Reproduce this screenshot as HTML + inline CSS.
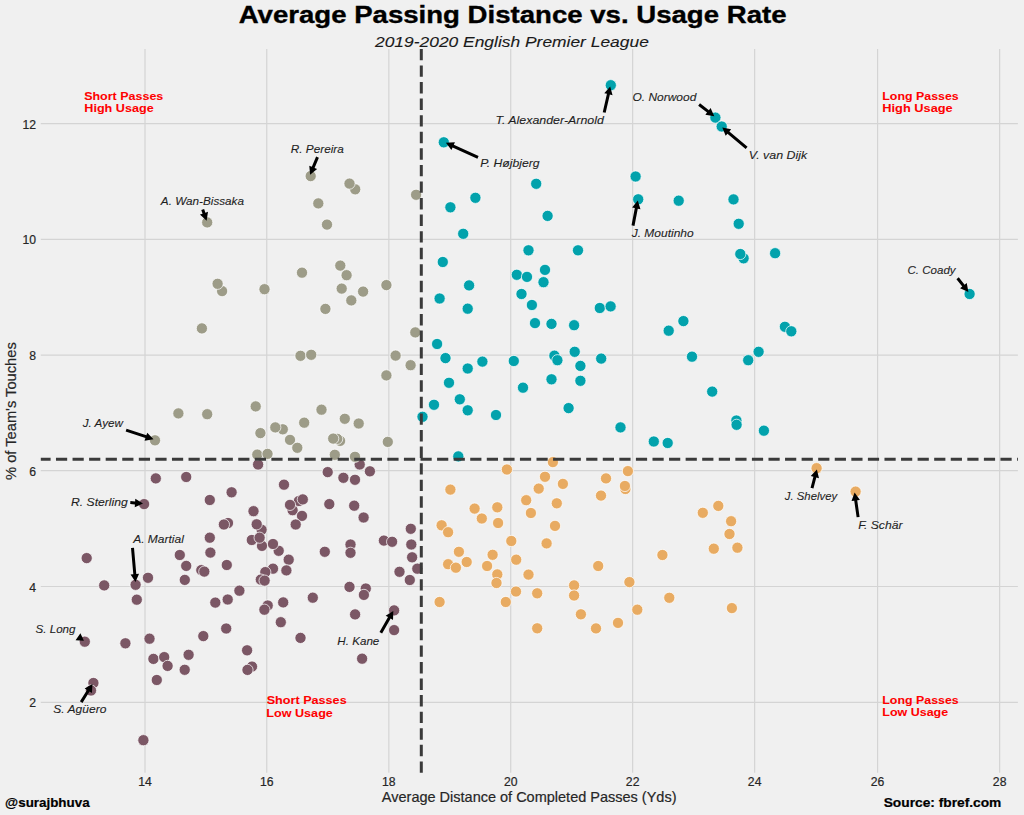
<!DOCTYPE html><html><head><meta charset="utf-8"><style>html,body{margin:0;padding:0;background:#f0f0f0;}svg{display:block;}text{font-family:"Liberation Sans",sans-serif;}</style></head><body>
<svg width="1024" height="815" viewBox="0 0 1024 815">
<rect width="1024" height="815" fill="#f0f0f0"/>
<path d="M145.00 48.9V772.8M266.75 48.9V772.8M388.85 48.9V772.8M510.70 48.9V772.8M632.65 48.9V772.8M754.65 48.9V772.8M877.60 48.9V772.8M999.65 48.9V772.8M40.8 702.35H1017.9M40.8 586.50H1017.9M40.8 470.65H1017.9M40.8 355.10H1017.9M40.8 239.35H1017.9M40.8 123.65H1017.9" stroke="#d4d4d4" stroke-width="1.2" fill="none"/>
<g fill="#7b5765" stroke="#ffffff" stroke-width="0.9" stroke-opacity="0.8">
<circle cx="155.8" cy="478.4" r="5.6"/><circle cx="186.2" cy="477.0" r="5.6"/><circle cx="231.6" cy="492.3" r="5.6"/><circle cx="209.8" cy="500.0" r="5.6"/><circle cx="144.1" cy="504.1" r="5.6"/><circle cx="258.1" cy="464.5" r="5.6"/><circle cx="359.7" cy="464.5" r="5.6"/><circle cx="327.7" cy="472.1" r="5.6"/><circle cx="369.9" cy="471.3" r="5.6"/><circle cx="343.4" cy="477.8" r="5.6"/><circle cx="355.0" cy="479.8" r="5.6"/><circle cx="284.0" cy="484.7" r="5.6"/><circle cx="298.9" cy="501.0" r="5.6"/><circle cx="292.6" cy="510.2" r="5.6"/><circle cx="329.3" cy="504.1" r="5.6"/><circle cx="354.2" cy="505.7" r="5.6"/><circle cx="302.0" cy="515.9" r="5.6"/><circle cx="253.5" cy="511.2" r="5.6"/><circle cx="363.6" cy="517.5" r="5.6"/><circle cx="295.7" cy="524.5" r="5.6"/><circle cx="261.6" cy="529.8" r="5.6"/><circle cx="251.8" cy="540.0" r="5.6"/><circle cx="262.0" cy="545.9" r="5.6"/><circle cx="278.7" cy="550.8" r="5.6"/><circle cx="288.7" cy="559.7" r="5.6"/><circle cx="273.0" cy="568.7" r="5.6"/><circle cx="286.4" cy="570.4" r="5.6"/><circle cx="265.3" cy="572.1" r="5.6"/><circle cx="324.8" cy="551.8" r="5.6"/><circle cx="350.5" cy="544.5" r="5.6"/><circle cx="350.5" cy="552.8" r="5.6"/><circle cx="383.9" cy="540.6" r="5.6"/><circle cx="392.1" cy="541.8" r="5.6"/><circle cx="410.8" cy="528.8" r="5.6"/><circle cx="411.3" cy="544.5" r="5.6"/><circle cx="412.1" cy="557.3" r="5.6"/><circle cx="399.5" cy="571.8" r="5.6"/><circle cx="417.3" cy="568.7" r="5.6"/><circle cx="228.0" cy="523.0" r="5.6"/><circle cx="223.9" cy="524.5" r="5.6"/><circle cx="209.8" cy="537.7" r="5.6"/><circle cx="210.4" cy="552.6" r="5.6"/><circle cx="179.8" cy="555.0" r="5.6"/><circle cx="226.8" cy="565.0" r="5.6"/><circle cx="186.2" cy="565.9" r="5.6"/><circle cx="201.3" cy="570.1" r="5.6"/><circle cx="204.3" cy="571.6" r="5.6"/><circle cx="86.7" cy="558.1" r="5.6"/><circle cx="148.0" cy="577.8" r="5.6"/><circle cx="184.8" cy="579.9" r="5.6"/><circle cx="104.2" cy="585.4" r="5.6"/><circle cx="135.6" cy="584.8" r="5.6"/><circle cx="239.4" cy="590.7" r="5.6"/><circle cx="136.8" cy="599.7" r="5.6"/><circle cx="215.3" cy="602.6" r="5.6"/><circle cx="227.7" cy="599.5" r="5.6"/><circle cx="226.2" cy="628.5" r="5.6"/><circle cx="203.3" cy="636.1" r="5.6"/><circle cx="84.8" cy="641.7" r="5.6"/><circle cx="125.4" cy="643.3" r="5.6"/><circle cx="149.5" cy="638.7" r="5.6"/><circle cx="153.4" cy="658.9" r="5.6"/><circle cx="164.2" cy="657.1" r="5.6"/><circle cx="188.6" cy="654.8" r="5.6"/><circle cx="167.6" cy="665.9" r="5.6"/><circle cx="184.7" cy="669.8" r="5.6"/><circle cx="156.8" cy="680.0" r="5.6"/><circle cx="93.4" cy="683.0" r="5.6"/><circle cx="91.0" cy="690.5" r="5.6"/><circle cx="143.4" cy="740.2" r="5.6"/><circle cx="260.8" cy="579.6" r="5.6"/><circle cx="264.6" cy="580.6" r="5.6"/><circle cx="267.7" cy="605.5" r="5.6"/><circle cx="264.4" cy="609.7" r="5.6"/><circle cx="283.2" cy="602.4" r="5.6"/><circle cx="312.8" cy="597.7" r="5.6"/><circle cx="280.8" cy="622.2" r="5.6"/><circle cx="300.5" cy="637.9" r="5.6"/><circle cx="247.1" cy="650.3" r="5.6"/><circle cx="252.0" cy="666.6" r="5.6"/><circle cx="247.5" cy="669.9" r="5.6"/><circle cx="349.5" cy="586.9" r="5.6"/><circle cx="365.8" cy="588.5" r="5.6"/><circle cx="363.9" cy="594.9" r="5.6"/><circle cx="355.1" cy="614.4" r="5.6"/><circle cx="394.1" cy="610.4" r="5.6"/><circle cx="394.1" cy="630.1" r="5.6"/><circle cx="362.1" cy="658.7" r="5.6"/><circle cx="409.8" cy="580.0" r="5.6"/><circle cx="256.7" cy="524.3" r="5.6"/><circle cx="259.6" cy="537.7" r="5.6"/><circle cx="273.0" cy="544.0" r="5.6"/><circle cx="290.0" cy="504.9" r="5.6"/><circle cx="302.8" cy="499.4" r="5.6"/>
</g>
<g fill="#9d9c88" stroke="#ffffff" stroke-width="0.9" stroke-opacity="0.8">
<circle cx="310.7" cy="176.1" r="5.6"/><circle cx="355.2" cy="189.3" r="5.6"/><circle cx="416.1" cy="194.8" r="5.6"/><circle cx="318.3" cy="203.4" r="5.6"/><circle cx="327.0" cy="224.6" r="5.6"/><circle cx="340.3" cy="265.6" r="5.6"/><circle cx="302.0" cy="272.7" r="5.6"/><circle cx="346.6" cy="275.2" r="5.6"/><circle cx="386.4" cy="285.1" r="5.6"/><circle cx="207.2" cy="222.4" r="5.6"/><circle cx="201.9" cy="328.4" r="5.6"/><circle cx="264.5" cy="289.2" r="5.6"/><circle cx="341.7" cy="288.6" r="5.6"/><circle cx="363.1" cy="291.6" r="5.6"/><circle cx="351.3" cy="300.4" r="5.6"/><circle cx="325.4" cy="308.9" r="5.6"/><circle cx="415.3" cy="332.4" r="5.6"/><circle cx="300.5" cy="355.8" r="5.6"/><circle cx="311.2" cy="354.8" r="5.6"/><circle cx="395.6" cy="355.6" r="5.6"/><circle cx="410.6" cy="365.2" r="5.6"/><circle cx="386.4" cy="375.4" r="5.6"/><circle cx="255.7" cy="406.4" r="5.6"/><circle cx="321.5" cy="409.7" r="5.6"/><circle cx="344.8" cy="418.8" r="5.6"/><circle cx="304.2" cy="422.7" r="5.6"/><circle cx="358.7" cy="423.5" r="5.6"/><circle cx="260.4" cy="433.1" r="5.6"/><circle cx="290.0" cy="439.9" r="5.6"/><circle cx="297.3" cy="447.8" r="5.6"/><circle cx="387.8" cy="441.9" r="5.6"/><circle cx="257.3" cy="454.6" r="5.6"/><circle cx="267.5" cy="453.9" r="5.6"/><circle cx="334.8" cy="454.8" r="5.6"/><circle cx="355.0" cy="456.8" r="5.6"/><circle cx="178.4" cy="413.4" r="5.6"/><circle cx="207.2" cy="414.2" r="5.6"/><circle cx="155.0" cy="440.3" r="5.6"/><circle cx="222.1" cy="291.1" r="5.6"/><circle cx="217.6" cy="283.8" r="5.6"/><circle cx="282.8" cy="429.3" r="5.6"/><circle cx="275.3" cy="427.4" r="5.6"/><circle cx="340.1" cy="440.9" r="5.6"/><circle cx="337.2" cy="438.9" r="5.6"/><circle cx="333.2" cy="438.6" r="5.6"/><circle cx="349.5" cy="183.6" r="5.6"/>
</g>
<g fill="#02a2ac" stroke="#ffffff" stroke-width="0.9" stroke-opacity="0.8">
<circle cx="610.8" cy="85.2" r="5.6"/><circle cx="443.8" cy="142.3" r="5.6"/><circle cx="536.2" cy="183.8" r="5.6"/><circle cx="475.4" cy="197.8" r="5.6"/><circle cx="635.6" cy="176.5" r="5.6"/><circle cx="638.2" cy="199.3" r="5.6"/><circle cx="715.4" cy="117.6" r="5.6"/><circle cx="721.7" cy="126.5" r="5.6"/><circle cx="678.7" cy="200.7" r="5.6"/><circle cx="733.5" cy="199.4" r="5.6"/><circle cx="450.4" cy="207.3" r="5.6"/><circle cx="547.6" cy="215.9" r="5.6"/><circle cx="463.2" cy="233.8" r="5.6"/><circle cx="528.5" cy="250.3" r="5.6"/><circle cx="578.0" cy="250.3" r="5.6"/><circle cx="442.8" cy="262.0" r="5.6"/><circle cx="545.0" cy="269.9" r="5.6"/><circle cx="516.8" cy="274.8" r="5.6"/><circle cx="527.0" cy="276.9" r="5.6"/><circle cx="543.5" cy="282.2" r="5.6"/><circle cx="469.1" cy="285.4" r="5.6"/><circle cx="521.5" cy="294.0" r="5.6"/><circle cx="439.6" cy="298.5" r="5.6"/><circle cx="531.9" cy="305.0" r="5.6"/><circle cx="467.7" cy="308.7" r="5.6"/><circle cx="599.8" cy="308.0" r="5.6"/><circle cx="610.6" cy="306.4" r="5.6"/><circle cx="535.0" cy="323.1" r="5.6"/><circle cx="551.5" cy="323.9" r="5.6"/><circle cx="574.1" cy="325.2" r="5.6"/><circle cx="437.1" cy="344.0" r="5.6"/><circle cx="738.7" cy="223.8" r="5.6"/><circle cx="743.6" cy="258.3" r="5.6"/><circle cx="775.1" cy="253.2" r="5.6"/><circle cx="683.4" cy="321.1" r="5.6"/><circle cx="668.7" cy="330.7" r="5.6"/><circle cx="784.9" cy="326.8" r="5.6"/><circle cx="791.3" cy="331.3" r="5.6"/><circle cx="969.6" cy="294.0" r="5.6"/><circle cx="445.5" cy="358.1" r="5.6"/><circle cx="482.4" cy="361.6" r="5.6"/><circle cx="467.7" cy="368.5" r="5.6"/><circle cx="513.8" cy="361.0" r="5.6"/><circle cx="554.4" cy="355.7" r="5.6"/><circle cx="557.4" cy="360.2" r="5.6"/><circle cx="574.7" cy="351.8" r="5.6"/><circle cx="580.4" cy="365.9" r="5.6"/><circle cx="601.2" cy="358.6" r="5.6"/><circle cx="449.0" cy="382.8" r="5.6"/><circle cx="523.0" cy="387.7" r="5.6"/><circle cx="551.5" cy="379.3" r="5.6"/><circle cx="580.4" cy="380.8" r="5.6"/><circle cx="434.0" cy="404.8" r="5.6"/><circle cx="459.8" cy="399.3" r="5.6"/><circle cx="467.7" cy="410.3" r="5.6"/><circle cx="496.0" cy="415.0" r="5.6"/><circle cx="422.5" cy="416.8" r="5.6"/><circle cx="568.6" cy="408.1" r="5.6"/><circle cx="620.5" cy="427.4" r="5.6"/><circle cx="458.3" cy="456.4" r="5.6"/><circle cx="692.0" cy="356.7" r="5.6"/><circle cx="748.2" cy="360.2" r="5.6"/><circle cx="758.6" cy="351.8" r="5.6"/><circle cx="712.2" cy="391.6" r="5.6"/><circle cx="736.4" cy="420.5" r="5.6"/><circle cx="736.6" cy="424.8" r="5.6"/><circle cx="763.9" cy="430.7" r="5.6"/><circle cx="653.8" cy="441.5" r="5.6"/><circle cx="667.7" cy="443.0" r="5.6"/><circle cx="740.3" cy="254.0" r="5.6"/>
</g>
<g fill="#e8ab62" stroke="#ffffff" stroke-width="0.9" stroke-opacity="0.8">
<circle cx="506.9" cy="469.5" r="5.6"/><circle cx="552.9" cy="462.1" r="5.6"/><circle cx="545.0" cy="476.8" r="5.6"/><circle cx="562.9" cy="483.9" r="5.6"/><circle cx="538.7" cy="488.6" r="5.6"/><circle cx="606.0" cy="478.4" r="5.6"/><circle cx="450.4" cy="489.6" r="5.6"/><circle cx="601.0" cy="495.6" r="5.6"/><circle cx="526.2" cy="500.2" r="5.6"/><circle cx="556.8" cy="503.3" r="5.6"/><circle cx="474.6" cy="508.6" r="5.6"/><circle cx="497.3" cy="507.3" r="5.6"/><circle cx="530.9" cy="513.0" r="5.6"/><circle cx="481.8" cy="518.5" r="5.6"/><circle cx="498.1" cy="523.0" r="5.6"/><circle cx="441.6" cy="525.3" r="5.6"/><circle cx="555.0" cy="525.9" r="5.6"/><circle cx="448.1" cy="532.2" r="5.6"/><circle cx="511.3" cy="541.0" r="5.6"/><circle cx="546.6" cy="543.4" r="5.6"/><circle cx="458.9" cy="551.8" r="5.6"/><circle cx="492.6" cy="554.8" r="5.6"/><circle cx="516.2" cy="559.7" r="5.6"/><circle cx="466.7" cy="562.0" r="5.6"/><circle cx="448.1" cy="564.2" r="5.6"/><circle cx="455.9" cy="567.7" r="5.6"/><circle cx="487.1" cy="566.0" r="5.6"/><circle cx="497.3" cy="574.4" r="5.6"/><circle cx="528.5" cy="574.6" r="5.6"/><circle cx="598.2" cy="566.0" r="5.6"/><circle cx="496.5" cy="583.0" r="5.6"/><circle cx="574.1" cy="585.4" r="5.6"/><circle cx="516.0" cy="591.5" r="5.6"/><circle cx="537.2" cy="593.3" r="5.6"/><circle cx="574.1" cy="595.5" r="5.6"/><circle cx="439.6" cy="602.0" r="5.6"/><circle cx="505.8" cy="602.0" r="5.6"/><circle cx="580.9" cy="614.3" r="5.6"/><circle cx="537.2" cy="628.3" r="5.6"/><circle cx="596.0" cy="628.4" r="5.6"/><circle cx="618.0" cy="622.9" r="5.6"/><circle cx="627.9" cy="471.1" r="5.6"/><circle cx="625.4" cy="489.0" r="5.6"/><circle cx="816.6" cy="468.2" r="5.6"/><circle cx="855.6" cy="491.6" r="5.6"/><circle cx="718.3" cy="505.9" r="5.6"/><circle cx="702.8" cy="512.8" r="5.6"/><circle cx="731.1" cy="521.2" r="5.6"/><circle cx="729.5" cy="534.0" r="5.6"/><circle cx="713.8" cy="548.7" r="5.6"/><circle cx="737.4" cy="547.7" r="5.6"/><circle cx="662.4" cy="555.0" r="5.6"/><circle cx="629.4" cy="582.1" r="5.6"/><circle cx="669.3" cy="597.8" r="5.6"/><circle cx="637.3" cy="609.7" r="5.6"/><circle cx="731.9" cy="608.1" r="5.6"/><circle cx="624.9" cy="486.0" r="5.6"/>
</g>
<path d="M40.8 459.35H1017.9" stroke="#3a3a3a" stroke-width="3.0" stroke-dasharray="11.2 5.37" stroke-dashoffset="1.4" fill="none"/>
<path d="M421.3 772.8V48.9" stroke="#3a3a3a" stroke-width="3.0" stroke-dasharray="11.4 5.17" fill="none"/>
<path d="M605.66 112.84L609.87 94.53L612.55 95.15L610.20 86.40L604.27 93.24L606.95 93.86L602.74 112.16ZM698.18 105.68L707.06 112.58L705.37 114.75L714.30 116.30L710.59 108.04L708.90 110.21L700.02 103.32ZM747.57 146.75L729.38 131.41L731.16 129.31L722.30 127.40L725.67 135.81L727.45 133.71L745.63 149.05ZM478.62 156.03L453.80 144.75L454.94 142.24L445.90 142.80L451.42 149.98L452.56 147.48L477.38 158.77ZM634.47 225.88L637.77 208.64L640.47 209.16L637.80 200.50L632.12 207.56L634.82 208.08L631.53 225.32ZM956.43 279.23L962.25 286.57L960.10 288.28L968.40 291.90L966.75 282.99L964.60 284.70L958.77 277.37ZM316.12 156.52L311.82 166.74L309.28 165.68L310.10 174.70L317.12 168.97L314.58 167.91L318.88 157.68ZM201.28 209.99L202.57 213.73L199.97 214.62L206.60 220.80L208.01 211.85L205.41 212.75L204.12 209.01ZM125.63 431.52L145.43 438.10L144.57 440.71L153.50 439.20L147.25 432.65L146.38 435.25L126.57 428.68ZM130.21 504.10L134.92 504.39L134.75 507.14L143.00 503.40L135.28 498.66L135.11 501.40L130.39 501.10ZM131.01 547.93L133.31 574.26L130.57 574.50L135.50 582.10L139.04 573.76L136.30 574.00L133.99 547.67ZM75.57 640.19L83.90 640.80L80.43 633.21ZM82.47 702.89L89.54 691.58L91.87 693.04L92.50 684.00L84.66 688.54L86.99 689.99L79.93 701.31ZM382.10 633.54L390.64 618.59L393.03 619.95L393.30 610.90L385.64 615.74L388.03 617.10L379.50 632.06ZM813.45 488.48L816.32 477.52L818.98 478.22L816.90 469.40L810.76 476.06L813.42 476.76L810.55 487.72ZM859.58 516.89L857.22 500.31L859.94 499.92L854.60 492.60L851.52 501.12L854.25 500.73L856.62 517.31Z" fill="#000000"/>
<text x="495.47" y="123.60" font-size="11.2" font-weight="normal" font-style="italic" fill="#1f1f1f" stroke="#1f1f1f" stroke-width="0.1" textLength="108.36" lengthAdjust="spacingAndGlyphs">T. Alexander-Arnold</text>
<text x="632.49" y="100.60" font-size="11.2" font-weight="normal" font-style="italic" fill="#1f1f1f" stroke="#1f1f1f" stroke-width="0.1" textLength="63.83" lengthAdjust="spacingAndGlyphs">O. Norwood</text>
<text x="748.81" y="158.80" font-size="11.2" font-weight="normal" font-style="italic" fill="#1f1f1f" stroke="#1f1f1f" stroke-width="0.1" textLength="58.34" lengthAdjust="spacingAndGlyphs">V. van Dijk</text>
<text x="480.17" y="166.90" font-size="11.2" font-weight="normal" font-style="italic" fill="#1f1f1f" stroke="#1f1f1f" stroke-width="0.1" textLength="59.51" lengthAdjust="spacingAndGlyphs">P. Højbjerg</text>
<text x="631.68" y="236.60" font-size="11.2" font-weight="normal" font-style="italic" fill="#1f1f1f" stroke="#1f1f1f" stroke-width="0.1" textLength="62.00" lengthAdjust="spacingAndGlyphs">J. Moutinho</text>
<text x="907.49" y="273.90" font-size="11.2" font-weight="normal" font-style="italic" fill="#1f1f1f" stroke="#1f1f1f" stroke-width="0.1" textLength="48.15" lengthAdjust="spacingAndGlyphs">C. Coady</text>
<text x="290.83" y="152.80" font-size="11.2" font-weight="normal" font-style="italic" fill="#1f1f1f" stroke="#1f1f1f" stroke-width="0.1" textLength="53.00" lengthAdjust="spacingAndGlyphs">R. Pereira</text>
<text x="160.87" y="204.80" font-size="11.2" font-weight="normal" font-style="italic" fill="#1f1f1f" stroke="#1f1f1f" stroke-width="0.1" textLength="83.15" lengthAdjust="spacingAndGlyphs">A. Wan-Bissaka</text>
<text x="82.66" y="427.20" font-size="11.2" font-weight="normal" font-style="italic" fill="#1f1f1f" stroke="#1f1f1f" stroke-width="0.1" textLength="40.32" lengthAdjust="spacingAndGlyphs">J. Ayew</text>
<text x="70.98" y="505.50" font-size="11.2" font-weight="normal" font-style="italic" fill="#1f1f1f" stroke="#1f1f1f" stroke-width="0.1" textLength="56.85" lengthAdjust="spacingAndGlyphs">R. Sterling</text>
<text x="133.19" y="542.90" font-size="11.2" font-weight="normal" font-style="italic" fill="#1f1f1f" stroke="#1f1f1f" stroke-width="0.1" textLength="50.62" lengthAdjust="spacingAndGlyphs">A. Martial</text>
<text x="35.51" y="632.80" font-size="11.2" font-weight="normal" font-style="italic" fill="#1f1f1f" stroke="#1f1f1f" stroke-width="0.1" textLength="40.00" lengthAdjust="spacingAndGlyphs">S. Long</text>
<text x="53.34" y="713.40" font-size="11.2" font-weight="normal" font-style="italic" fill="#1f1f1f" stroke="#1f1f1f" stroke-width="0.1" textLength="53.00" lengthAdjust="spacingAndGlyphs">S. Agüero</text>
<text x="337.34" y="644.50" font-size="11.2" font-weight="normal" font-style="italic" fill="#1f1f1f" stroke="#1f1f1f" stroke-width="0.1" textLength="42.00" lengthAdjust="spacingAndGlyphs">H. Kane</text>
<text x="784.85" y="499.90" font-size="11.2" font-weight="normal" font-style="italic" fill="#1f1f1f" stroke="#1f1f1f" stroke-width="0.1" textLength="52.30" lengthAdjust="spacingAndGlyphs">J. Shelvey</text>
<text x="858.17" y="528.90" font-size="11.2" font-weight="normal" font-style="italic" fill="#1f1f1f" stroke="#1f1f1f" stroke-width="0.1" textLength="44.32" lengthAdjust="spacingAndGlyphs">F. Schär</text>
<text x="238.66" y="23.40" font-size="23.3" font-weight="bold" font-style="normal" fill="#000000" stroke="#000000" stroke-width="0.35" textLength="547.87" lengthAdjust="spacingAndGlyphs">Average Passing Distance vs. Usage Rate</text>
<text x="375.02" y="47.40" font-size="15.4" font-weight="normal" font-style="italic" fill="#1a1a1a" stroke="#1a1a1a" stroke-width="0.1" textLength="273.81" lengthAdjust="spacingAndGlyphs">2019-2020 English Premier League</text>
<text x="381.83" y="801.90" font-size="15.0" font-weight="normal" font-style="normal" fill="#262626" stroke="#262626" stroke-width="0.2" textLength="294.68" lengthAdjust="spacingAndGlyphs">Average Distance of Completed Passes (Yds)</text>
<text x="5.13" y="806.70" font-size="12.0" font-weight="bold" font-style="normal" fill="#000000" stroke="#000000" stroke-width="0.2" textLength="84.51" lengthAdjust="spacingAndGlyphs">@surajbhuva</text>
<text x="883.66" y="806.80" font-size="12.0" font-weight="bold" font-style="normal" fill="#000000" stroke="#000000" stroke-width="0.2" textLength="117.70" lengthAdjust="spacingAndGlyphs">Source: fbref.com</text>
<text x="84.17" y="100.10" font-size="11.6" font-weight="bold" font-style="normal" fill="#ff0000" stroke="#ff0000" stroke-width="0.05" textLength="79.17" lengthAdjust="spacingAndGlyphs">Short Passes</text>
<text x="84.32" y="112.30" font-size="11.6" font-weight="bold" font-style="normal" fill="#ff0000" stroke="#ff0000" stroke-width="0.05" textLength="69.36" lengthAdjust="spacingAndGlyphs">High Usage</text>
<text x="882.30" y="100.10" font-size="11.6" font-weight="bold" font-style="normal" fill="#ff0000" stroke="#ff0000" stroke-width="0.05" textLength="76.38" lengthAdjust="spacingAndGlyphs">Long Passes</text>
<text x="882.30" y="112.30" font-size="11.6" font-weight="bold" font-style="normal" fill="#ff0000" stroke="#ff0000" stroke-width="0.05" textLength="70.40" lengthAdjust="spacingAndGlyphs">High Usage</text>
<text x="266.66" y="703.80" font-size="11.6" font-weight="bold" font-style="normal" fill="#ff0000" stroke="#ff0000" stroke-width="0.05" textLength="80.02" lengthAdjust="spacingAndGlyphs">Short Passes</text>
<text x="266.30" y="716.50" font-size="11.6" font-weight="bold" font-style="normal" fill="#ff0000" stroke="#ff0000" stroke-width="0.05" textLength="66.55" lengthAdjust="spacingAndGlyphs">Low Usage</text>
<text x="882.30" y="703.75" font-size="11.6" font-weight="bold" font-style="normal" fill="#ff0000" stroke="#ff0000" stroke-width="0.05" textLength="76.38" lengthAdjust="spacingAndGlyphs">Long Passes</text>
<text x="882.30" y="716.40" font-size="11.6" font-weight="bold" font-style="normal" fill="#ff0000" stroke="#ff0000" stroke-width="0.05" textLength="65.87" lengthAdjust="spacingAndGlyphs">Low Usage</text>
<text x="145.00" y="785.80" font-size="12.2" fill="#262626" stroke="#262626" stroke-width="0.2" text-anchor="middle">14</text>
<text x="266.75" y="785.80" font-size="12.2" fill="#262626" stroke="#262626" stroke-width="0.2" text-anchor="middle">16</text>
<text x="388.85" y="785.80" font-size="12.2" fill="#262626" stroke="#262626" stroke-width="0.2" text-anchor="middle">18</text>
<text x="510.70" y="785.80" font-size="12.2" fill="#262626" stroke="#262626" stroke-width="0.2" text-anchor="middle">20</text>
<text x="632.65" y="785.80" font-size="12.2" fill="#262626" stroke="#262626" stroke-width="0.2" text-anchor="middle">22</text>
<text x="754.65" y="785.80" font-size="12.2" fill="#262626" stroke="#262626" stroke-width="0.2" text-anchor="middle">24</text>
<text x="877.60" y="785.80" font-size="12.2" fill="#262626" stroke="#262626" stroke-width="0.2" text-anchor="middle">26</text>
<text x="999.65" y="785.80" font-size="12.2" fill="#262626" stroke="#262626" stroke-width="0.2" text-anchor="middle">28</text>
<text x="36.00" y="707.35" font-size="12.2" fill="#262626" stroke="#262626" stroke-width="0.2" text-anchor="end">2</text>
<text x="36.00" y="591.50" font-size="12.2" fill="#262626" stroke="#262626" stroke-width="0.2" text-anchor="end">4</text>
<text x="36.00" y="475.65" font-size="12.2" fill="#262626" stroke="#262626" stroke-width="0.2" text-anchor="end">6</text>
<text x="36.00" y="360.10" font-size="12.2" fill="#262626" stroke="#262626" stroke-width="0.2" text-anchor="end">8</text>
<text x="36.00" y="244.35" font-size="12.2" fill="#262626" stroke="#262626" stroke-width="0.2" text-anchor="end">10</text>
<text x="36.00" y="128.65" font-size="12.2" fill="#262626" stroke="#262626" stroke-width="0.2" text-anchor="end">12</text>
<g transform="translate(16.10 480.00) rotate(-90)"><text x="0" y="0" font-size="15.0" fill="#262626" stroke="#262626" stroke-width="0.2" textLength="137.80" lengthAdjust="spacingAndGlyphs">% of Team's Touches</text></g>
</svg></body></html>
